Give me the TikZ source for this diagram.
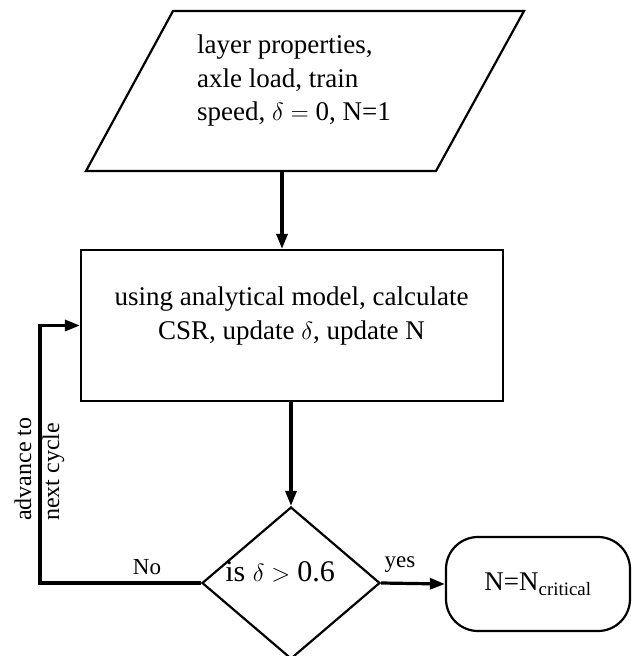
\documentclass[tikz,border=0pt]{standalone}
\usepackage{fontspec}
\setmainfont{Liberation Serif}
\usetikzlibrary{shapes.geometric,arrows.meta}
\begin{document}
\begin{tikzpicture}[x=1pt,y=-1pt,
  shapeline/.style={draw=black,line width=2.2pt},
  conn/.style={line width=3.2pt,-{Triangle[length=15pt,width=11pt]}},
  maintext/.style={font=\fontsize{27}{33.5}\selectfont,inner sep=0pt},
  labeltext/.style={font=\fontsize{23}{27}\selectfont,inner sep=0pt},
  sidetext/.style={font=\fontsize{24}{28}\selectfont,inner sep=0pt,rotate=90,anchor=base west}]
\useasboundingbox (0,0) rectangle (634,656);
% input parallelogram
\draw[shapeline,line join=miter] (173,11) -- (524,11) -- (436,171) -- (86,171) -- cycle;
\coordinate (inb) at (282,171);
\node[maintext,align=left,anchor=north west] (intext) at (197,34.6)
  {layer properties,\\axle load, train\\speed, $\delta = \mbox{0}$, N=1};
% process box
\node[shapeline,rectangle,minimum width=422pt,minimum height=151pt,inner sep=0pt] (proc) at (292,325.5) {};
\node[maintext,align=center,anchor=north] (proctext) at (291.5,286.6)
  {using analytical model, calculate\\CSR, update $\delta$, update N};
% decision
\node[shapeline,diamond,minimum width=178pt,minimum height=152pt,inner sep=0pt] (dec) at (291,583) {};
\node[font=\fontsize{30}{34}\selectfont,inner sep=0pt,anchor=base] (dectext) at (280,581) {is $\delta > \mbox{0.6}$};
% terminal
\node[shapeline,rectangle,rounded corners=32pt,minimum width=184pt,minimum height=94pt,inner sep=0pt,
  font=\fontsize{27}{30}\selectfont] (term) at (538,584) {N=N\textsubscript{critical}};
% connectors
\draw[conn] (inb) -- (inb |- proc.north);
\draw[conn] (proc.south -| dec.north) -- (dec.north);
\draw[conn] (dec.east) -- (term.west);
\coordinate (loopc) at (40,583);
\draw[conn,line join=miter] (dec.west) -- (loopc) |- (proc.west);
% labels
\node[labeltext,anchor=base] (nolab) at (147,574) {No};
\node[labeltext,anchor=base] (yeslab) at (400,567) {yes};
\node[sidetext] (adv1) at (31,521) {advance to};
\node[sidetext] (adv2) at (59,521) {next cycle};
\end{tikzpicture}
\end{document}
